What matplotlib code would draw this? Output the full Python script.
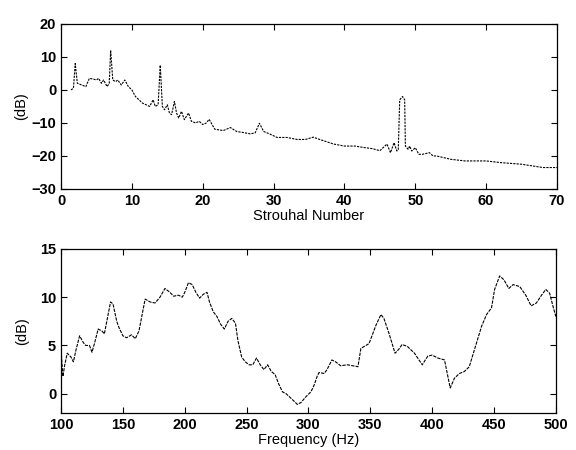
import matplotlib
matplotlib.use("Agg")
import matplotlib.pyplot as plt

# top panel: spectrum vs Strouhal number
st = [1.4, 1.75, 2.0, 2.3, 2.9, 3.5, 4.0, 4.5, 5.0, 5.3, 5.7, 6.0, 6.5, 6.8, 7.0, 7.3,
      7.7, 8.0, 8.5, 9.0, 9.5, 10.0, 10.5, 11.0, 11.5, 12.0, 12.5, 13.0, 13.3, 13.7,
      14.0, 14.3, 14.6, 15.0, 15.3, 15.6, 16.0, 16.3, 16.6, 17.0, 17.4, 18.0, 18.4,
      19.0, 19.5, 20.0, 20.5, 20.9, 21.7, 22.9, 23.9, 24.8, 25.7, 26.7, 27.4, 28.0,
      28.6, 29.3, 30.5, 31.9, 33.3, 34.5, 35.6, 36.5, 38.5, 40.0, 41.5, 42.6,
      44.0, 45.0, 46.0, 46.5, 47.0, 47.4, 47.6, 47.8, 48.2, 48.5, 48.6, 49.0, 49.2, 49.5,
      50.0, 50.5, 51.0, 52.0, 52.5, 53.0, 54.0, 55.0, 57.0, 60.0, 62.0, 65.0, 68.0, 70.0]
db_st = [0.0, 0.5, 8.0, 2.0, 1.5, 1.0, 3.5, 3.3, 3.0, 3.5, 2.0, 3.0, 1.0, 2.0, 12.0, 3.0,
         2.5, 3.0, 1.5, 3.0, 1.0, 0.0, -2.0, -3.0, -4.0, -4.5, -5.0, -3.0, -5.0, -4.5,
         7.5, -5.0, -6.0, -4.5, -7.0, -7.5, -3.5, -7.0, -8.5, -6.5, -9.0, -7.0, -9.5,
         -10.0, -9.5, -10.5, -10.0, -8.9, -11.9, -12.3, -11.4, -12.6, -12.9, -13.3, -13.0, -10.1,
         -12.6, -13.2, -14.4, -14.4, -15.0, -15.0, -14.3, -15.0, -16.4, -17.0, -17.0, -17.4,
         -17.8, -18.4, -16.4, -19.0, -16.0, -18.5, -18.0, -3.0, -2.0, -3.0, -17.0, -18.0, -17.0, -18.5,
         -17.5, -19.5, -19.5, -19.0, -20.0, -20.0, -20.5, -21.0, -21.5, -21.5, -22.0, -22.5, -23.5, -23.5]

# bottom panel: spectrum vs frequency
freq = [100, 101.5, 103, 105, 108, 110, 112, 115, 118, 120, 123, 125, 127, 130, 133, 135,
        137, 140, 142, 145, 147, 150, 153, 157, 160, 163, 166, 168, 172, 176, 180, 184,
        188, 191, 195, 198, 200, 203, 206, 209, 212, 215, 218, 220, 223, 226, 229, 232,
        235, 238, 241, 243, 246, 249, 252, 255, 258, 261, 264, 267, 270, 273, 276, 279,
        282, 287, 291, 294, 298, 302, 304.6, 307, 308.6, 312.7, 315, 319, 322, 326, 331.6,
        340, 342.4, 346.5, 349, 354.6, 358.6, 361, 365, 370, 373, 375.7, 380, 385.7, 392,
        396.5, 400, 404.6, 410, 414.6, 418, 422, 426, 430, 435, 440, 444, 448, 450.5,
        454.6, 458, 462, 465.4, 470.8, 475.7, 480, 484.3, 488.4, 491.9, 495, 497.8, 500]
db_f = [4.5, 1.8, 3.0, 4.2, 3.8, 3.3, 4.5, 6.0, 5.3, 5.0, 5.0, 4.3, 5.2, 6.7, 6.5, 6.2,
        7.5, 9.5, 9.3, 7.5, 6.8, 6.0, 5.8, 6.1, 5.7, 6.5, 8.5, 9.8, 9.5, 9.4, 10.0, 10.9,
        10.5, 10.1, 10.2, 10.0, 10.5, 11.5, 11.3, 10.5, 9.9, 10.3, 10.5, 9.5, 8.5, 8.0, 7.2, 6.7,
        7.5, 7.8, 7.3, 5.5, 3.8, 3.3, 3.0, 3.0, 3.7, 3.0, 2.5, 3.0, 2.3, 2.0, 1.0, 0.2,
        0.0, -0.6, -1.1, -0.9, -0.3, 0.2, 0.9, 1.8, 2.2, 2.1, 2.5, 3.5, 3.3, 2.9, 3.0,
        2.8, 4.7, 5.0, 5.2, 7.1, 8.2, 7.8, 6.3, 4.2, 4.6, 5.1, 4.9, 4.2, 3.0,
        3.9, 4.0, 3.7, 3.5, 0.6, 1.6, 2.1, 2.3, 2.8, 4.9, 7.0, 8.2, 8.9, 10.8,
        12.2, 11.8, 10.9, 11.3, 11.1, 10.2, 9.1, 9.4, 10.2, 10.8, 10.4, 9.0, 8.0]

plt.rcParams['font.family'] = ['Liberation Sans', 'DejaVu Sans']
plt.rcParams['font.size'] = 10.5

fig = plt.figure(figsize=(5.76, 4.5), dpi=100)
ax1 = fig.add_axes([0.106, 0.58, 0.861, 0.367])
ax2 = fig.add_axes([0.106, 0.082, 0.859, 0.365])

for ax in (ax1, ax2):
    ax.tick_params(direction='in', top=True, right=True, length=4, width=0.8)
    for s in ax.spines.values():
        s.set_linewidth(0.9)

ax1.plot(st, db_st, color='k', linestyle=(0, (2, 1)), linewidth=0.8)
ax1.set_xlim(0, 70)
ax1.set_ylim(-30, 20)
ax1.set_xticks([0, 10, 20, 30, 40, 50, 60, 70])
ax1.set_yticks([-30, -20, -10, 0, 10, 20])
ax1.set_xlabel('Strouhal Number', labelpad=1)
ax1.set_ylabel('(dB)', labelpad=2)

ax2.plot(freq, db_f, color='k', linestyle=(0, (3, 1)), linewidth=0.8)
ax2.set_xlim(100, 500)
ax2.set_ylim(-2, 15)
ax2.set_xticks([100, 150, 200, 250, 300, 350, 400, 450, 500])
ax2.set_yticks([0, 5, 10, 15])
ax2.set_xlabel('Frequency (Hz)', labelpad=1)
ax2.set_ylabel('(dB)', labelpad=8)

for ax in (ax1, ax2):
    for tl in ax.get_xticklabels() + ax.get_yticklabels():
        tl.set_fontweight('bold')

fig.savefig('out.png', dpi=100)
